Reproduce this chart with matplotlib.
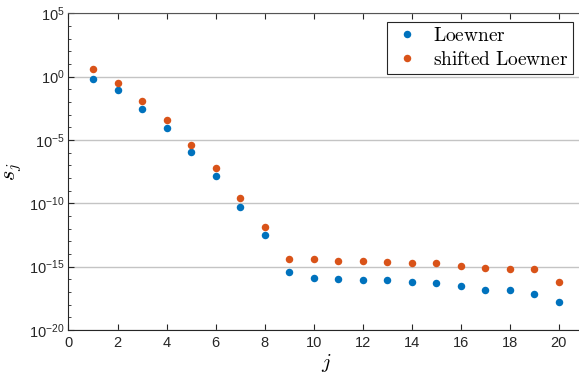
import numpy as np
import matplotlib
matplotlib.use('Agg')
import matplotlib.pyplot as plt
from matplotlib.ticker import FixedLocator, NullFormatter, LogFormatterSciNotation

plt.rcParams['mathtext.fontset'] = 'cm'
plt.rcParams['font.family'] = ['Liberation Sans', 'DejaVu Sans']

# singular values of the two Loewner matrices (log10 scale)
j = np.arange(1, 21)
log_loewner = [-0.16, -1.08, -2.53, -4.05, -5.97, -7.87, -10.26, -12.53, -15.39, -15.92,
               -15.94, -16.08, -16.08, -16.24, -16.31, -16.55, -16.81, -16.84, -17.18, -17.81]
log_shifted = [0.58, -0.47, -1.92, -3.45, -5.37, -7.24, -9.60, -11.84, -14.37, -14.37,
               -14.58, -14.58, -14.60, -14.71, -14.74, -14.95, -15.14, -15.16, -15.16, -16.18]

s_loewner = 10.0 ** np.array(log_loewner)
s_shifted = 10.0 ** np.array(log_shifted)

blue = '#0072BD'
orange = '#D95319'
axis_color = '#262626'

fig = plt.figure(figsize=(5.79, 3.76), dpi=100)
ax = fig.add_axes([0.1183, 0.1223, 0.889, 0.8423])

ax.semilogy(j, s_loewner, 'o', color=blue, markersize=5.4, markeredgewidth=0,
            label=r'$\mathrm{Loewner}$', zorder=3)
ax.semilogy(j, s_shifted, 'o', color=orange, markersize=5.4, markeredgewidth=0,
            label=r'$\mathrm{shifted\ Loewner}$', zorder=3)

ax.set_xlim(0, 21)
ax.set_ylim(1e-20, 1e5)
ax.set_xticks(np.arange(0, 21, 2))
ax.yaxis.set_major_locator(FixedLocator([10.0 ** k for k in range(-20, 6, 5)]))
ax.yaxis.set_minor_locator(FixedLocator([10.0 ** k for k in range(-20, 6) if k % 5]))
ax.yaxis.set_major_formatter(LogFormatterSciNotation())
ax.yaxis.set_minor_formatter(NullFormatter())

ax.grid(True, axis='y', which='major', color='#c4c4c4', linewidth=1.0)
ax.set_axisbelow(True)

ax.tick_params(axis='both', which='both', direction='in', colors=axis_color,
               labelsize=10.5, top=True, right=False)
ax.tick_params(axis='x', which='major', length=4.5, pad=4)
ax.tick_params(axis='y', which='major', length=4.5, pad=3)
ax.tick_params(axis='y', which='minor', length=2.5)
for side in ('left', 'bottom', 'top'):
    ax.spines[side].set_color(axis_color)
    ax.spines[side].set_linewidth(0.8)
ax.spines['top'].set_color('#555555')
ax.spines['right'].set_visible(False)

ax.set_xlabel(r'$j$', fontsize=15)
ax.xaxis.set_label_coords(0.5, -0.07)
ax.set_ylabel(r'$s_j$', fontsize=16)
ax.yaxis.set_label_coords(-0.087, 0.5)

leg = ax.legend(loc='upper right', bbox_to_anchor=(0.980, 0.9725), borderaxespad=0,
                fontsize=14, frameon=True, fancybox=False, edgecolor=axis_color,
                framealpha=1, handletextpad=0.5, borderpad=0.25, labelspacing=0.3,
                handlelength=1.6)
leg.get_frame().set_linewidth(0.8)

fig.savefig('out.png', dpi=100)
